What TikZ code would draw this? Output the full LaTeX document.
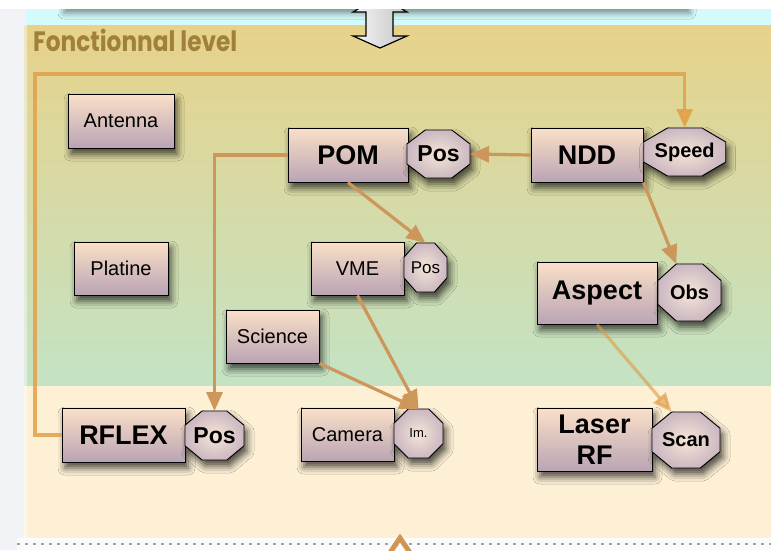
\documentclass[tikz,border=0pt]{standalone}
\usepackage{fontspec}
\setmainfont{Liberation Sans}
\newfontfamily\titlefont{Poppins}
\usetikzlibrary{arrows.meta,calc,shadows.blur}

\definecolor{boxtop}{RGB}{250,224,200}
\definecolor{boxbot}{RGB}{186,164,180}
\definecolor{octin}{RGB}{246,230,214}
\definecolor{octout}{RGB}{204,184,194}
\definecolor{tanbg}{RGB}{231,210,138}
\definecolor{greenbg}{RGB}{196,227,196}
\definecolor{creambg}{RGB}{254,240,213}
\definecolor{cyanbg}{RGB}{212,250,251}
\definecolor{marginbg}{RGB}{242,243,246}
\definecolor{titlebrown}{RGB}{160,128,58}
\definecolor{busorange}{RGB}{227,160,72}
\definecolor{linkbrown}{RGB}{205,150,90}
\definecolor{dotgrey}{RGB}{165,165,168}

\tikzset{
  softshadow/.style={blur shadow={shadow xshift=3pt, shadow yshift=-6pt,
      shadow blur radius=7pt, shadow opacity=70}},
  module/.style={draw=black, line width=0.9pt, top color=boxtop,
      bottom color=boxbot, softshadow, inner sep=0pt, align=center},
  smallbox/.style={module, font=\fontsize{20}{24}\selectfont},
  bigbox/.style={module, font=\fontsize{27}{31}\selectfont\bfseries},
  octframe/.style={inner sep=0pt, outer sep=0pt},
  octface/.style={draw=black, line width=0.9pt, inner color=octin,
      outer color=octout, softshadow},
  octlabel/.style={inner sep=0pt},
  link/.style={draw=linkbrown, line width=3.2pt,
      -{Triangle[length=19pt,width=16pt]}},
  faintlink/.style={link, draw=busorange!85!brown, opacity=0.6},
  bus/.style={draw=busorange, line width=3.4pt, opacity=0.85,
      -{Triangle[length=19pt,width=16pt]}},
}

% octagonal port: name, centre, width, height, font, text
\newcommand\octnode[6]{%
  \node[octframe, minimum width=#3, minimum height=#4] (#1) at #2 {};
  \path[octface]
       ($(#1.north west)!.29!(#1.north east)$) coordinate (#1-tl)
    -- ($(#1.north west)!.71!(#1.north east)$) coordinate (#1-tr)
    -- ($(#1.north east)!.29!(#1.south east)$)
    -- ($(#1.north east)!.71!(#1.south east)$)
    -- ($(#1.south west)!.71!(#1.south east)$)
    -- ($(#1.south west)!.29!(#1.south east)$)
    -- ($(#1.north west)!.71!(#1.south west)$)
    -- ($(#1.north west)!.29!(#1.south west)$)
    -- cycle;
  \node[octlabel, font=#5] (#1-label) at (#1.center) {#6};
}

\begin{document}
\begin{tikzpicture}[x=1pt,y=-1pt]
\useasboundingbox (0,0) rectangle (771,550);
\clip (0,0) rectangle (771,550);

% page background
\fill[marginbg] (0,0) rectangle (771,550);
\fill[white] (0,0) rectangle (771,9);
\fill[white!97!gray] (17,538) rectangle (771,550);

% level bands
\fill[cyanbg] (26,9) rectangle (771,25);
\begin{scope}
  \clip (26,9) rectangle (771,25);
  \fill[white, blur shadow={shadow xshift=0pt, shadow yshift=-4pt,
      shadow blur radius=6pt, shadow opacity=45}] (64,-20) rectangle (690,9);
\end{scope}
\shade[top color=tanbg, bottom color=greenbg] (24,25) rectangle (771,386);
\fill[creambg] (24,386) rectangle (771,538);
\fill[white, opacity=0.45] (24,25) rectangle (27,538);

% double arrow entering from the level above
\draw[line width=1.2pt, left color=white!92!gray, right color=gray!45]
  (380,-4) -- (407,12) -- (393,12) -- (393,36) -- (407,36) -- (380,48)
  -- (353,36) -- (366,36) -- (366,12) -- (353,12) -- cycle;
\fill[white] (0,0) rectangle (771,9);

% boundary to the level below
\draw[dotgrey, line width=1.6pt, dash pattern=on 3pt off 5pt] (17,544) -- (771,544);
\draw[linkbrown!95!orange, line width=5pt, fill=white!98!gray, line join=miter]
  (400,538) -- (383,563) -- (417,563) -- cycle;

% title
\node[anchor=base west, text=titlebrown, inner sep=0pt] (title) at (33,51)
  {\scalebox{0.83}[1]{\titlefont\bfseries\fontsize{28}{30}\selectfont Fonctionnal level}};

% modules
\node[smallbox, minimum width=106pt, minimum height=54pt] (antenna) at (121,121) {Antenna};
\node[smallbox, minimum width=94pt, minimum height=53pt] (platine) at (121,268.5) {Platine};
\node[bigbox, minimum width=120pt, minimum height=54pt] (pom) at (348,155) {POM};
\node[bigbox, minimum width=112pt, minimum height=54pt] (ndd) at (587,155) {NDD};
\node[smallbox, minimum width=93pt, minimum height=53pt] (vme) at (357.5,268.5) {VME};
\node[bigbox, minimum width=120pt, minimum height=62pt] (aspect) at (597,293) {Aspect};
\node[smallbox, minimum width=93pt, minimum height=53pt] (science) at (272.5,336.5) {Science};
\node[bigbox, minimum width=123pt, minimum height=54pt] (rflex) at (123.5,435) {RFLEX};
\node[smallbox, minimum width=93pt, minimum height=53pt] (camera) at (347.5,434.5) {Camera};
\node[bigbox, minimum width=115pt, minimum height=63pt] (laser) at (594.5,439.5) {Laser\\RF};

% ports
\octnode{pompos}{(438.5,154)}{63pt}{48pt}{\fontsize{23}{26}\selectfont\bfseries}{Pos}
\octnode{speed}{(684.7,152)}{82pt}{48pt}{\fontsize{20}{24}\selectfont\bfseries}{Speed}
\octnode{vmepos}{(425.5,267.5)}{43pt}{49pt}{\fontsize{17}{20}\selectfont}{Pos}
\octnode{obs}{(689.5,292.5)}{63pt}{57pt}{\fontsize{20}{24}\selectfont\bfseries}{Obs}
\octnode{rflexpos}{(214.5,435.5)}{59pt}{49pt}{\fontsize{23}{26}\selectfont\bfseries}{Pos}
\octnode{im}{(418.5,433.5)}{49pt}{49pt}{\fontsize{13}{15}\selectfont}{Im.}
\octnode{scan}{(686,440)}{68pt}{56pt}{\fontsize{20}{24}\selectfont\bfseries}{Scan}

% connectors
\coordinate (busnw) at (35,74);
\draw[bus] (rflex.west) -| (busnw) -| (speed.north);
\draw[link] (ndd.west) -- (pompos.east);
\draw[link] (pom.west) -| (rflexpos.north);
\draw[link] (pom.south) -- (vmepos.north);
\draw[link] (ndd.south east) -- (obs-tl);
\draw[link] (vme.south) -- (im.north);
\draw[link] (science.south east) -- (im.north);
\draw[faintlink] (aspect.south) -- (scan-tl);
\end{tikzpicture}
\end{document}
